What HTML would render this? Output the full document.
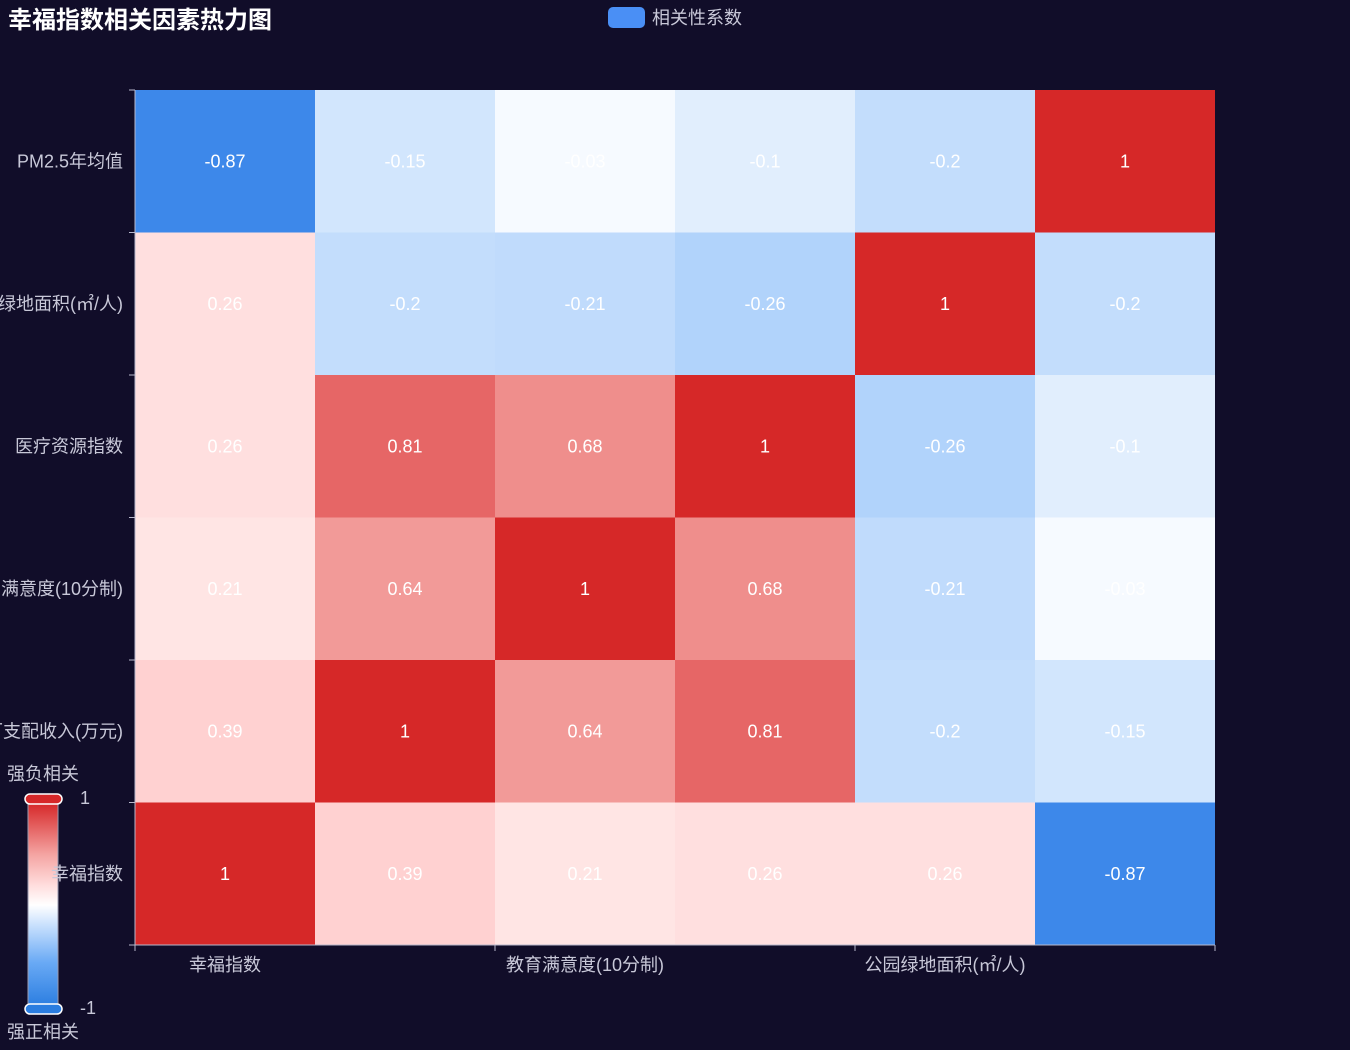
<!DOCTYPE html>
<html><head><meta charset="utf-8"><style>
html,body{margin:0;padding:0;background:#110d29;width:1350px;height:1050px;overflow:hidden}
svg{display:block;font-family:"Liberation Sans","Noto Sans CJK SC",sans-serif}
</style></head><body>
<svg id="chart" width="1350" height="1050">
<defs>
<linearGradient id="vmGrad" x1="0" y1="0" x2="0" y2="1">
<stop offset="0" stop-color="#d62728"/><stop offset="0.25" stop-color="#f4a3a1"/><stop offset="0.4" stop-color="#ffdcdc"/><stop offset="0.5" stop-color="#ffffff"/><stop offset="0.6" stop-color="#c8e0fd"/><stop offset="0.78" stop-color="#6aaaf5"/><stop offset="1" stop-color="#2a7de0"/>
</linearGradient>
</defs>
<text x="8" y="28" font-size="24" font-weight="bold" fill="#ffffff">幸福指数相关因素热力图</text>
<g>
<rect x="608" y="7" width="37" height="21" rx="5" fill="#4a8ff5"/>
<text x="652" y="24" font-size="18" fill="#c8c8d8">相关性系数</text>
</g>
<g id="vm">
<text x="7" y="780" font-size="18" fill="#c8c8d8">强负相关</text>
<rect x="28" y="803" width="30" height="204" fill="url(#vmGrad)" stroke="#9a9ab0" stroke-width="1"/>
<rect x="25" y="794" width="37" height="10" rx="5" fill="#d62728" stroke="#fff" stroke-width="1.5"/>
<rect x="25" y="1004" width="37" height="10" rx="5" fill="#2a7de0" stroke="#fff" stroke-width="1.5"/>
<text x="80" y="804" font-size="18" fill="#c8c8d8">1</text>
<text x="80" y="1014" font-size="18" fill="#c8c8d8">-1</text>
<text x="7" y="1038" font-size="18" fill="#c8c8d8">强正相关</text>
</g>
<g id="cells"></g>
<g id="axes"></g>
</svg>
<script>
const categories=["幸福指数","人均可支配收入(万元)","教育满意度(10分制)","医疗资源指数","公园绿地面积(㎡/人)","PM2.5年均值"];
const row0=[1,0.39,0.21,0.26,0.26,-0.87];
const row1=[0.39,1,0.64,0.81,-0.2,-0.15];
const row2=[0.21,0.64,1,0.68,-0.21,-0.03];
const row3=[0.26,0.81,0.68,1,-0.26,-0.1];
const row4=[0.26,-0.2,-0.21,-0.26,1,-0.2];
const row5=[-0.87,-0.15,-0.03,-0.1,-0.2,1];
const matrix=[row0,row1,row2,row3,row4,row5];
const colorStops=[[-1,"#2f7ee6"],[-0.87,"#3d88ea"],[-0.26,"#b1d3fb"],[0,"#ffffff"],[0.21,"#ffe5e4"],[0.39,"#ffd1d1"],[0.64,"#f29a98"],[0.81,"#e66666"],[1,"#d62828"]];
const NS="http://www.w3.org/2000/svg";
const L=135,R=1215,T=90,B=945,n=categories.length;
const cw=(R-L)/n,ch=(B-T)/n;
function xPos(i){return L+i*cw;}
function yPos(j){return B-(j+1)*ch;}
function hex(h){return [1,3,5].map(k=>parseInt(h.substr(k,2),16));}
function color(v){
 for(let k=0;k<colorStops.length-1;k++){const a=colorStops[k],b=colorStops[k+1];
  if(v>=a[0]&&v<=b[0]){const t=(v-a[0])/(b[0]-a[0]||1);const ca=hex(a[1]),cb=hex(b[1]);
   return "rgb("+ca.map((c,i)=>Math.round(c+(cb[i]-c)*t)).join(",")+")";}}
 return v<0?colorStops[0][1]:colorStops[colorStops.length-1][1];}
function mk(tag,attrs,parent){const e=document.createElementNS(NS,tag);for(const k in attrs)e.setAttribute(k,attrs[k]);parent.appendChild(e);return e;}
const cells=document.getElementById("cells"),axes=document.getElementById("axes");
for(let j=0;j<n;j++)for(let i=0;i<n;i++){
 const v=matrix[j][i];
 const r=mk("rect",{x:xPos(i),y:yPos(j),width:cw,height:ch,fill:color(v)},cells);
 
 
 const t=mk("text",{x:xPos(i)+cw/2,y:yPos(j)+ch/2+6,"text-anchor":"middle","font-size":"18",fill:"#ffffff"},cells);
 
 
 t.textContent=String(v);
}
const xl=mk("line",{x1:L,y1:B,x2:R,y2:B,stroke:"#b8b8cc","stroke-width":1},axes);


const yl=mk("line",{x1:L,y1:T,x2:L,y2:B,stroke:"#b8b8cc","stroke-width":1},axes);


for(let i=0;i<=n;i+=2){
 const tk=mk("line",{x1:xPos(i),y1:B,x2:xPos(i),y2:B+6,stroke:"#b8b8cc"},axes);
 
 
}
for(let i=0;i<n;i+=2){
 const t=mk("text",{x:xPos(i)+cw/2,y:B+26,"text-anchor":"middle","font-size":"18",fill:"#c8c8d8"},axes);
 
 
 t.textContent=categories[i];
}
for(let j=0;j<=n;j++){
 const tk=mk("line",{x1:L-6,y1:B-j*ch,x2:L,y2:B-j*ch,stroke:"#b8b8cc"},axes);
 
 
}
for(let j=0;j<n;j++){
 const t=mk("text",{x:123,y:yPos(j)+ch/2+6,"text-anchor":"end","font-size":"18",fill:"#c8c8d8"},axes);
 
 
 t.textContent=categories[j];
}
</script>
</body></html>
